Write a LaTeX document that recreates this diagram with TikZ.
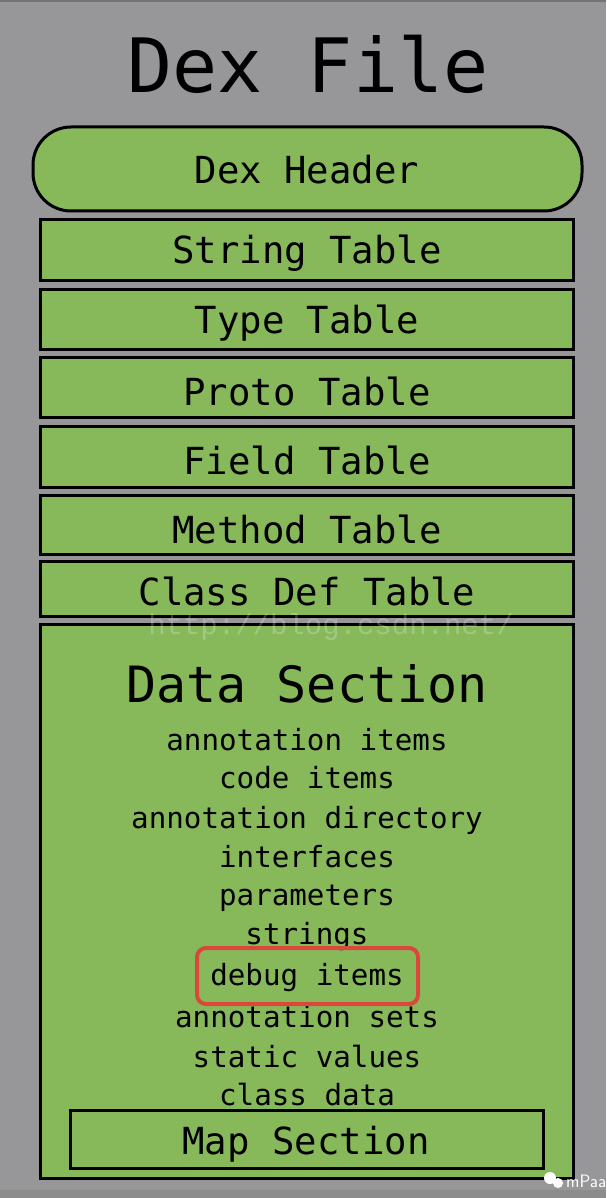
\documentclass[tikz,border=0pt]{standalone}
\usepackage{fontspec}
\setmonofont{DejaVu Sans Mono}
\newfontfamily\wmfont{Liberation Mono}
\definecolor{bggray}{HTML}{979799}
\definecolor{boxgreen}{HTML}{87B95B}
\definecolor{hlred}{HTML}{D9483B}
\begin{document}
\begin{tikzpicture}[x=1pt,y=-1pt,
  every node/.style={font=\ttfamily},
  greenbox/.style={draw=black, line width=3pt, fill=boxgreen, inner sep=0pt},
  tabbox/.style={greenbox, minimum width=533pt},
  tabtext/.style={font=\ttfamily\fontsize{37.3}{40}\selectfont, inner sep=0pt},
  itemtext/.style={font=\ttfamily\fontsize{29.2}{30}\selectfont, inner sep=0pt}]
\fill[bggray] (0,0) rectangle (606,1198);
\fill[black!55] (0,0) rectangle (606,2);
\fill[black!45] (0,1190) rectangle (606,1198);
\useasboundingbox (0,0) rectangle (606,1198);
\node (title) at (308,64) {\fontsize{75}{80}\selectfont Dex File};
\node[greenbox, rounded corners=38pt, minimum width=549pt, minimum height=84pt] (header) at (307.5,169) {};
\node[tabtext] (headert) at (307,170) {Dex Header};
\node[tabbox, minimum height=60pt] (string) at (306.5,250) {};
\node[tabtext] (stringt) at (307,253) {String Table};
\node[tabbox, minimum height=60pt] (type) at (306.5,319) {};
\node[tabtext] (typet) at (307,323) {Type Table};
\node[tabbox, minimum height=60pt] (proto) at (306.5,387) {};
\node[tabtext] (protot) at (307,391) {Proto Table};
\node[tabbox, minimum height=61pt] (field) at (306.5,456.5) {};
\node[tabtext] (fieldt) at (307,460) {Field Table};
\node[tabbox, minimum height=59pt] (method) at (306.5,525) {};
\node[tabtext] (methodt) at (307,529) {Method Table};
\node[tabbox, minimum height=55pt] (classdef) at (306.5,589) {};
\node[tabtext] (classdeft) at (307,591) {Class Def Table};
\node[greenbox, minimum width=533pt, minimum height=554pt] (data) at (306.5,901) {};
\node (datatitle) at (307,684) {\fontsize{50}{54}\selectfont Data Section};
\node[itemtext] (i1) at (307,740) {annotation items};
\node[itemtext] (i2) at (307,778) {code items};
\node[itemtext] (i3) at (307,820) {annotation directory};
\node[itemtext] (i4) at (307,857) {interfaces};
\node[itemtext] (i5) at (307,898) {parameters};
\node[itemtext] (i6) at (307,937) {strings};
\node[itemtext] (i7) at (307,978) {debug items};
\node[itemtext] (i8) at (307,1017) {annotation sets};
\node[itemtext] (i9) at (307,1057) {static values};
\node[itemtext] (i10) at (307,1095) {class data};
\node[draw=hlred, line width=4pt, rounded corners=9pt, minimum width=221pt,
  minimum height=56pt] (hl) at (307.5,976) {};
\node[draw=black, line width=3pt, minimum width=473pt, minimum height=58pt] (map) at (306.5,1139) {};
\node[tabtext] (mapt) at (306,1144) {Map Section};
\node[text=white, opacity=0.22, font=\wmfont\fontsize{29}{32}\selectfont, inner sep=0pt] (wm) at (331,627) {http://blog.csdn.net/};
\fill[white] (550,1178) circle (6pt);
\fill[white] (558,1183) circle (5pt);
\node[text=white, font=\sffamily\fontsize{18}{20}\selectfont, anchor=west, inner sep=0pt] (mp) at (566,1181) {mPaa};
\end{tikzpicture}
\end{document}
